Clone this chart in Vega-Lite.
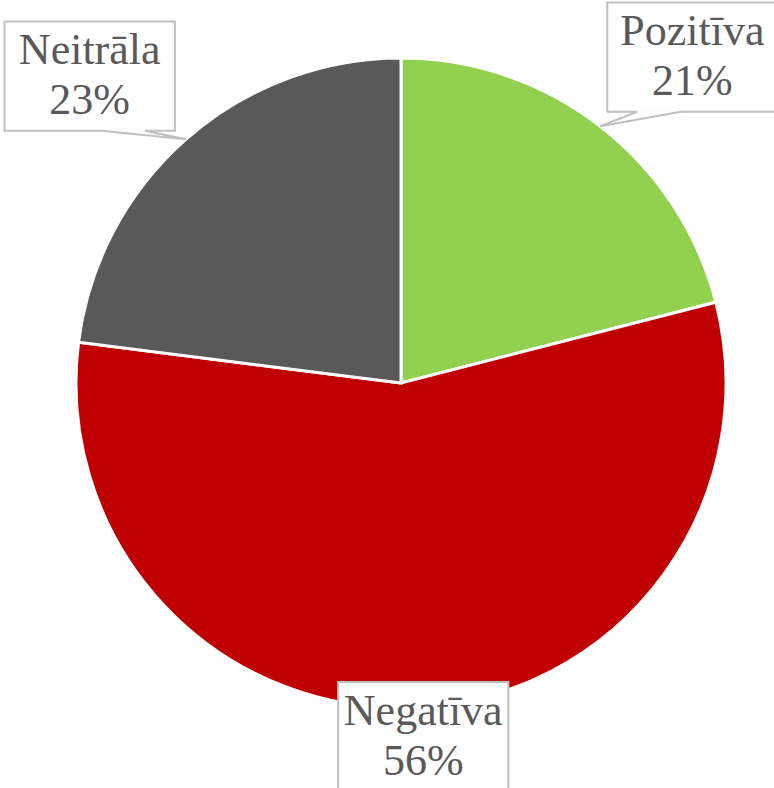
{
  "$schema": "https://vega.github.io/schema/vega-lite/v6.json",
  "width": 650,
  "height": 650,
  "autosize": {"type": "none"},
  "padding": {"left": 76, "top": 58, "right": 48, "bottom": 80},
  "background": "white",
  "config": {"view": {"stroke": null}},
  "data": {
    "values": [
      {"sentiment": "Pozitīva", "share": 21},
      {"sentiment": "Negatīva", "share": 56},
      {"sentiment": "Neitrāla", "share": 23}
    ]
  },
  "transform": [
    {"calculate": "indexof(['Pozitīva','Negatīva','Neitrāla'], datum.sentiment)", "as": "ord"},
    {"stack": "share", "groupby": [], "sort": [{"field": "ord", "order": "ascending"}], "as": ["s0", "s1"]},
    {"joinaggregate": [{"op": "sum", "field": "share", "as": "total"}]},
    {"calculate": "(datum.s0 + datum.s1) / datum.total * PI", "as": "mid"},
    {"calculate": "datum.mid + (cos(datum.mid) > 0 ? (sin(datum.mid) > 0 ? 1 : -1) * 0.07 : 0)", "as": "la"},
    {"calculate": "cos(datum.mid) > 0 ? 1.345 : 1.09", "as": "lr"},
    {"calculate": "datum.lr * sin(datum.la)", "as": "lx"},
    {"calculate": "datum.lr * cos(datum.la)", "as": "ly"},
    {"calculate": "datum.lx - 0.262", "as": "bx0"},
    {"calculate": "datum.lx + 0.262", "as": "bx1"},
    {"calculate": "datum.ly - 0.168", "as": "by0"},
    {"calculate": "datum.ly + 0.168", "as": "by1"},
    {"calculate": "sin(datum.mid)", "as": "tx"},
    {"calculate": "cos(datum.mid)", "as": "ty"},
    {"calculate": "datum.tx > datum.lx ? 1 : -1", "as": "sd"},
    {"calculate": "datum.lx + datum.sd * 0.035", "as": "px0"},
    {"calculate": "datum.lx + datum.sd * 0.17", "as": "px1"},
    {"calculate": "datum.sentiment + '\\n' + datum.share + '%'", "as": "label"}
  ],
  "layer": [
    {
      "mark": {"type": "arc", "stroke": "white", "strokeWidth": 3},
      "encoding": {
        "theta": {"field": "share", "type": "quantitative", "stack": true},
        "order": {"field": "ord", "type": "quantitative"},
        "color": {
          "field": "sentiment",
          "type": "nominal",
          "scale": {"domain": ["Pozitīva", "Negatīva", "Neitrāla"], "range": ["#92D050", "#C00000", "#595959"]},
          "legend": null
        }
      }
    },
    {
      "mark": {"type": "rect", "fill": "white", "stroke": "#BFBFBF", "strokeWidth": 2},
      "encoding": {
        "x": {"field": "bx0", "type": "quantitative", "scale": {"domain": [-1, 1], "nice": false, "zero": false}, "axis": null},
        "x2": {"field": "bx1"},
        "y": {"field": "by0", "type": "quantitative", "scale": {"domain": [-1, 1], "nice": false, "zero": false}, "axis": null},
        "y2": {"field": "by1"}
      }
    },
    {
      "transform": [{"filter": "datum.ty > 0"}],
      "mark": {"type": "rule", "stroke": "white", "strokeWidth": 3},
      "encoding": {
        "x": {"field": "px0", "type": "quantitative", "scale": {"domain": [-1, 1], "nice": false, "zero": false}, "axis": null},
        "x2": {"field": "px1"},
        "y": {"field": "by0", "type": "quantitative", "scale": {"domain": [-1, 1], "nice": false, "zero": false}, "axis": null},
        "y2": {"field": "by0"}
      }
    },
    {
      "transform": [{"filter": "datum.ty > 0"}],
      "mark": {"type": "rule", "stroke": "#BFBFBF", "strokeWidth": 2},
      "encoding": {
        "x": {"field": "px0", "type": "quantitative", "scale": {"domain": [-1, 1], "nice": false, "zero": false}, "axis": null},
        "x2": {"field": "tx"},
        "y": {"field": "by0", "type": "quantitative", "scale": {"domain": [-1, 1], "nice": false, "zero": false}, "axis": null},
        "y2": {"field": "ty"}
      }
    },
    {
      "transform": [{"filter": "datum.ty > 0"}],
      "mark": {"type": "rule", "stroke": "#BFBFBF", "strokeWidth": 2},
      "encoding": {
        "x": {"field": "px1", "type": "quantitative", "scale": {"domain": [-1, 1], "nice": false, "zero": false}, "axis": null},
        "x2": {"field": "tx"},
        "y": {"field": "by0", "type": "quantitative", "scale": {"domain": [-1, 1], "nice": false, "zero": false}, "axis": null},
        "y2": {"field": "ty"}
      }
    },
    {
      "mark": {
        "type": "text",
        "font": "Liberation Serif",
        "fontSize": 44,
        "lineHeight": 50,
        "lineBreak": "\n",
        "color": "#595959",
        "align": "center",
        "baseline": "middle",
        "dy": -25
      },
      "encoding": {
        "x": {"field": "lx", "type": "quantitative", "scale": {"domain": [-1, 1], "nice": false, "zero": false}, "axis": null},
        "y": {"field": "ly", "type": "quantitative", "scale": {"domain": [-1, 1], "nice": false, "zero": false}, "axis": null},
        "text": {"field": "label"}
      }
    }
  ]
}
